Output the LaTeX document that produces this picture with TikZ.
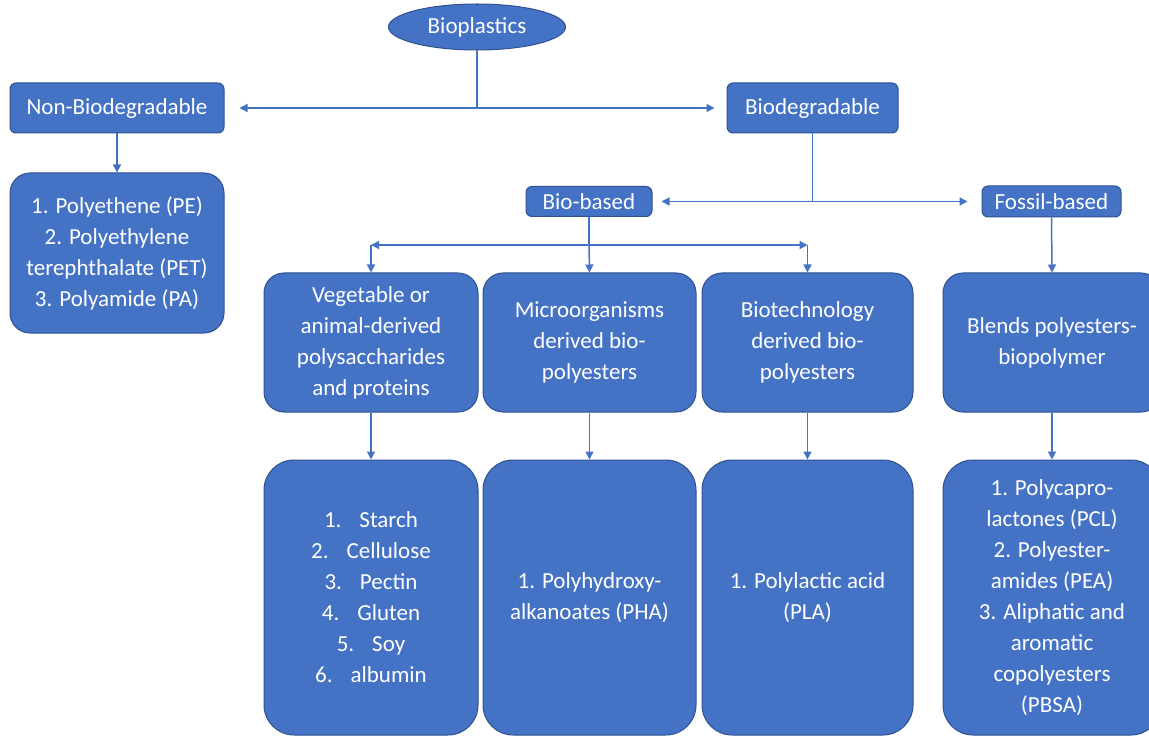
\documentclass[tikz,border=0pt]{standalone}
\usepackage{fontspec}
\setmainfont{Carlito}
\usetikzlibrary{arrows.meta,positioning,shapes}
\definecolor{boxblue}{HTML}{4472C4}
\definecolor{edgeblue}{HTML}{2F528F}

\begin{document}
\begin{tikzpicture}[x=0.5pt,y=-0.5pt,
    box/.style={draw=edgeblue,fill=boxblue,text=white,line width=0.5pt,align=center,
        inner sep=0pt,rounded corners=3pt,font=\fontsize{11.5}{15.5}\selectfont},
    midbox/.style={box,rounded corners=10pt,minimum height=69.5pt},
    listbox/.style={box,rounded corners=15pt,minimum height=137.5pt},
    link/.style={draw=boxblue,line width=0.75pt},
    tip/.style={-{Triangle[length=4pt,width=4pt]}}]
    \useasboundingbox[fill=white] (0,0) rectangle (1149,737);

    % top levels
    \node[box,ellipse,minimum width=88.5pt,minimum height=23pt] (bioplastics) at (477,27) {Bioplastics};
    \node[box,minimum width=107pt,minimum height=25pt] (nonbio) at (117,108) {Non-Biodegradable};
    \node[box,minimum width=85.5pt,minimum height=25pt] (biodeg) at (812.5,108) {Biodegradable};
    \node[box,rounded corners=10pt,minimum width=107pt,minimum height=80pt] (pe) at (117,253)
        {1. Polyethene (PE)\\2. Polyethylene\\terephthalate (PET)\\3. Polyamide (PA)};
    \node[box,minimum width=63pt,minimum height=15pt] (biobased) at (589,201.5) {Bio-based};
    \node[box,minimum width=69.5pt,minimum height=15.5pt] (fossil) at (1051.5,201.5) {Fossil-based};

    % second row
    \node[midbox,minimum width=107pt] (veg) at (371,342.5)
        {Vegetable or\\animal-derived\\polysaccharides\\and proteins};
    \node[midbox,minimum width=106.5pt] (micro) at (589.5,342.5)
        {Microorganisms\\derived bio-\\polyesters};
    \node[midbox,minimum width=105.5pt] (biotech) at (807.5,342.5)
        {Biotechnology\\derived bio-\\polyesters};
    \node[midbox,minimum width=109pt] (blends) at (1052,342.5)
        {Blends polyesters-\\biopolymer};

    % third row
    \node[listbox,minimum width=107pt] (veglist) at (371,597.5)
        {1.\hspace{9pt}Starch\\2.\hspace{9pt}Cellulose\\3.\hspace{9pt}Pectin\\
         4.\hspace{9pt}Gluten\\5.\hspace{9pt}Soy\\6.\hspace{9pt}albumin};
    \node[listbox,minimum width=106.5pt] (pha) at (589.5,597.5)
        {1. Polyhydroxy-\\alkanoates (PHA)};
    \node[listbox,minimum width=105.5pt] (pla) at (807.5,597.5)
        {1. Polylactic acid\\(PLA)};
    \node[listbox,minimum width=109pt] (pcl) at (1052,597.5)
        {1. Polycapro-\\lactones (PCL)\\2. Polyester-\\amides (PEA)\\3. Aliphatic and\\
         aromatic\\copolyesters\\(PBSA)};

    % connectors
    \coordinate (split) at (589,245);
    \draw[link] (bioplastics.south) -- (bioplastics.south |- nonbio.east);
    \draw[link,{Triangle[length=4pt,width=4pt]}-{Triangle[length=4pt,width=4pt]},
        shorten <=7.5pt,shorten >=6pt] (nonbio.east) -- (biodeg.west);
    \draw[link,tip] (nonbio.south) -- (pe.north);
    \draw[link] (biodeg.south) -- (biodeg.south |- biobased.east);
    \draw[link,{Triangle[length=4pt,width=4pt]}-{Triangle[length=4pt,width=4pt]},
        shorten <=4.5pt,shorten >=7pt] (biobased.east) -- (fossil.west);
    \draw[link] (biobased.south) -- (split);
    \draw[link,{Triangle[length=4pt,width=4pt]}-{Triangle[length=4pt,width=4pt]}]
        (split -| veg.north) -- (split -| biotech.north);
    \draw[link,tip] (split -| veg.north) -- (veg.north);
    \draw[link,tip] (split) -- (micro.north);
    \draw[link,tip] (split -| biotech.north) -- (biotech.north);
    \draw[link,tip] (fossil.south) -- (blends.north);
    \draw[link,tip] (veg.south) -- (veglist.north);
    \draw[link,tip] (micro.south) -- (pha.north);
    \draw[link,tip] (biotech.south) -- (pla.north);
    \draw[link,tip] (blends.south) -- (pcl.north);
\end{tikzpicture}
\end{document}
